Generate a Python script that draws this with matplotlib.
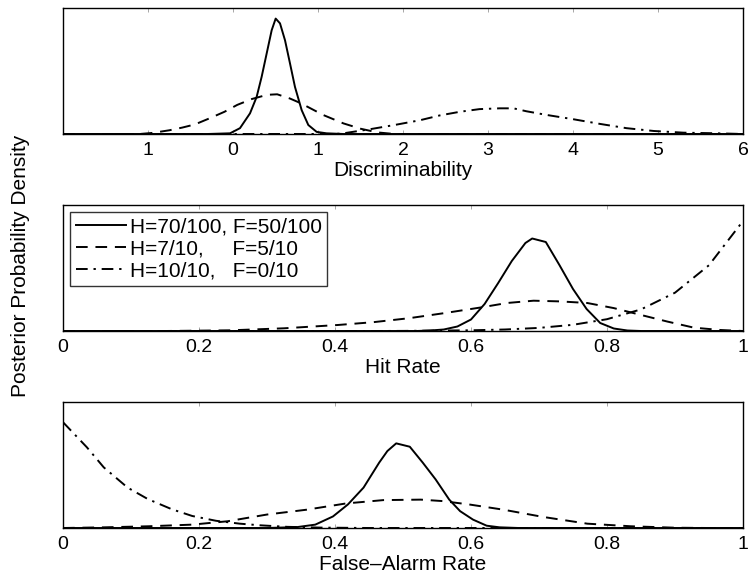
import numpy as np
import matplotlib
matplotlib.use("Agg")
import matplotlib.pyplot as plt

plt.rcParams['font.family'] = ['Liberation Sans', 'DejaVu Sans']

# values (densities, arbitrary scale per panel)
labels = ["H=70/100, F=50/100", "H=7/10,     F=5/10", "H=10/10,   F=0/10"]

# discriminability panel
d_solid_x = [-2.0, -0.3, -0.035, 0.082, 0.2, 0.278, 0.337, 0.396, 0.455, 0.502,
             0.553, 0.612, 0.671, 0.729, 0.808, 0.886, 0.984, 1.1, 1.3, 6.0]
d_solid_y = [0, 0, 0.013, 0.11, 0.39, 0.70, 1.08, 1.52, 1.96, 2.18,
             2.09, 1.77, 1.33, 0.89, 0.45, 0.17, 0.04, 0.013, 0, 0]
d_dash_x = [-2.0, -1.1, -0.95, -0.75, -0.6, -0.45, -0.27, -0.1, 0.05, 0.22, 0.4,
            0.52, 0.67, 0.8, 0.87, 1.06, 1.3, 1.5, 1.7, 1.9, 6.0]
d_dash_y = [0, 0, 0.02, 0.07, 0.12, 0.18, 0.3, 0.42, 0.55, 0.66, 0.74,
            0.75, 0.67, 0.58, 0.52, 0.36, 0.2, 0.1, 0.03, 0, 0]
d_dd_x = [-2.0, 1.2, 1.3, 1.61, 1.9, 2.2, 2.43, 2.67, 2.9, 3.14, 3.3, 3.45,
          3.69, 4.0, 4.32, 4.63, 4.95, 5.3, 5.7, 6.0]
d_dd_y = [0, 0, 0.013, 0.09, 0.17, 0.26, 0.35, 0.42, 0.47, 0.485, 0.485, 0.43,
          0.36, 0.28, 0.19, 0.11, 0.057, 0.025, 0.013, 0]

# hit rate panel
h_solid_x = [0.0, 0.52, 0.54, 0.56, 0.58, 0.60, 0.62, 0.64, 0.66, 0.68, 0.69,
             0.71, 0.73, 0.75, 0.77, 0.79, 0.81, 0.83, 0.85, 1.0]
h_solid_y = [0, 0, 0.05, 0.15, 0.45, 1.15, 2.7, 4.8, 7.0, 8.8, 9.25,
             8.9, 6.6, 4.2, 2.2, 0.8, 0.25, 0.05, 0, 0]
h_dash_x = [0.0, 0.15, 0.247, 0.325, 0.404, 0.456, 0.509, 0.561, 0.614, 0.653,
            0.692, 0.731, 0.771, 0.81, 0.849, 0.889, 0.928, 0.967, 1.0]
h_dash_y = [0, 0, 0.07, 0.27, 0.6, 0.88, 1.28, 1.79, 2.35, 2.8,
            3.03, 2.96, 2.8, 2.29, 1.62, 0.94, 0.33, 0.1, 0]
h_dd_x = [0.0, 0.45, 0.5, 0.6, 0.65, 0.7, 0.75, 0.8, 0.85, 0.9, 0.95, 1.0]
h_dd_y = [0, 0, 0.01, 0.07, 0.15, 0.31, 0.62, 1.18, 2.16, 3.83, 6.58, 11.0]

# false-alarm rate panel
f_solid_x = [0.0, 0.3, 0.345, 0.371, 0.397, 0.419, 0.442, 0.465, 0.477, 0.49,
             0.51, 0.529, 0.548, 0.568, 0.584, 0.603, 0.623, 0.642, 0.67, 1.0]
f_solid_y = [0, 0, 0.1, 0.35, 1.2, 2.45, 4.2, 6.8, 8.0, 8.8,
             8.45, 6.8, 5.05, 2.95, 1.75, 0.87, 0.24, 0.07, 0, 0]
f_dash_x = [0.0, 0.061, 0.126, 0.19, 0.242, 0.3, 0.358, 0.416, 0.471, 0.526,
            0.558, 0.597, 0.648, 0.706, 0.771, 0.835, 0.9, 0.95, 1.0]
f_dash_y = [0, 0.07, 0.18, 0.35, 0.7, 1.4, 1.9, 2.55, 2.9, 2.95,
            2.8, 2.45, 1.9, 1.15, 0.45, 0.18, 0.03, 0, 0]
f_dd_x = [0.0, 0.035, 0.06, 0.095, 0.125, 0.16, 0.19, 0.225, 0.26, 0.29,
          0.33, 0.38, 0.45, 1.0]
f_dd_y = [11.0, 8.4, 6.3, 4.2, 3.0, 1.95, 1.25, 0.75, 0.45, 0.28,
          0.12, 0.04, 0, 0]

d_ticks = [-1, 0, 1, 2, 3, 4, 5, 6]
d_ticklabels = ["1", "0", "1", "2", "3", "4", "5", "6"]
r_ticks = [0, 0.2, 0.4, 0.6, 0.8, 1]
r_ticklabels = ["0", "0.2", "0.4", "0.6", "0.8", "1"]

styles = ['-', (0, (6, 4)), (0, (6, 3, 1.2, 3))]
fs = 14

fig = plt.figure(figsize=(7.48, 5.81), dpi=100)
left, width, height = 63 / 748, 680 / 748, 126 / 581
ax1 = fig.add_axes([left, 1 - 134 / 581, width, height])
ax2 = fig.add_axes([left, 1 - 331 / 581, width, height])
ax3 = fig.add_axes([left, 1 - 528 / 581, width, height])

panels = [
    (ax1, [(d_solid_x, d_solid_y), (d_dash_x, d_dash_y), (d_dd_x, d_dd_y)],
     (-2, 6), 2.38, d_ticks, d_ticklabels, "Discriminability"),
    (ax2, [(h_solid_x, h_solid_y), (h_dash_x, h_dash_y), (h_dd_x, h_dd_y)],
     (0, 1), 12.6, r_ticks, r_ticklabels, "Hit Rate"),
    (ax3, [(f_solid_x, f_solid_y), (f_dash_x, f_dash_y), (f_dd_x, f_dd_y)],
     (0, 1), 13.1, r_ticks, r_ticklabels, "False\u2013Alarm Rate"),
]

for ax, curves, xlim, ymax, ticks, ticklabels, xlabel in panels:
    for (x, y), ls, lab in zip(curves, styles, labels):
        ax.plot(x, y, color='k', linestyle=ls, linewidth=1.4, label=lab)
    ax.set_xlim(*xlim)
    ax.set_ylim(0, ymax)
    ax.set_yticks([])
    ax.set_xticks(ticks)
    ax.set_xticklabels(ticklabels)
    ax.tick_params(axis='x', direction='in', top=True, length=3, width=0.6,
                   labelsize=fs, pad=6, color='0.6')
    for sp in ax.spines.values():
        sp.set_linewidth(1.0)
    ax.set_xlabel(xlabel, fontsize=fs + 1, labelpad=1)

leg = ax2.legend(loc='upper left', fontsize=fs + 1, frameon=True, fancybox=False,
                 borderaxespad=0.35, handlelength=2.4, handletextpad=0.2,
                 borderpad=0.25, labelspacing=0.15)
leg.get_frame().set_edgecolor('k')
leg.get_frame().set_linewidth(1.0)

fig.text(0.028, 1 - 266 / 581, "Posterior Probability Density", rotation=90,
         ha='center', va='center', fontsize=fs + 1)

fig.savefig("out.png", dpi=100)
